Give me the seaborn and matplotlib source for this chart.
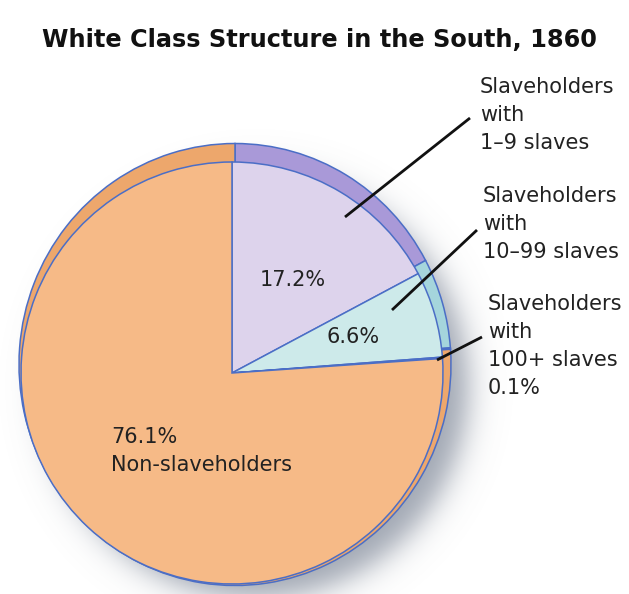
import numpy as np
import matplotlib
matplotlib.use("Agg")
import matplotlib.pyplot as plt
import matplotlib.transforms as mtransforms
import seaborn as sns

# Share of white Southern families by slaveholding, 1860 (percent)
groups = ["Slaveholders with 1–9 slaves", "Slaveholders with 10–99 slaves",
          "Slaveholders with 100+ slaves", "Non-slaveholders"]
shares = [17.2, 6.6, 0.1, 76.1]
face_colors = ["#ddd3ec", "#cdeaea", "#f4e53e", "#f6ba87"]
rim_colors = ["#a999d8", "#a5d5dc", "#e9d932", "#eda76c"]

title = "White Class Structure in the South, 1860"
callouts = ["Slaveholders\nwith\n1–9 slaves",
            "Slaveholders\nwith\n10–99 slaves",
            "Slaveholders\nwith\n100+ slaves\n0.1%"]
inner_labels = ["17.2%", "6.6%", "76.1%\nNon-slaveholders"]

sns.set_theme(style="white")
plt.rcParams["font.family"] = ["DejaVu Sans"]

W, H = 629, 594
fig = plt.figure(figsize=(W / 100, H / 100), dpi=100)
ax = fig.add_axes([0, 0, 1, 1])
ax.axis("off")

edge = "#4b6ec6"

# soft drop shadow falling to the lower right of the disc
yy, xx = np.mgrid[0:H, 0:W] + 0.5
dist = np.hypot(xx - 256, yy - 386)
alpha = 0.60 / (1 + np.exp((dist - 212) / 9.0))
shadow = np.zeros((H, W, 4))
shadow[..., 0] = 0.38
shadow[..., 1] = 0.42
shadow[..., 2] = 0.50
shadow[..., 3] = alpha
ax.imshow(shadow, extent=(0, W, H, 0), origin="upper", zorder=0,
          interpolation="bilinear")

# back of the disc (visible as a rim), drawn as a unit pie stretched to an ellipse
rim, _ = ax.pie(shares, colors=rim_colors, startangle=-90, counterclock=True,
                radius=1, center=(0, 0),
                wedgeprops=dict(edgecolor=edge, linewidth=1.1))
rim_tf = mtransforms.Affine2D().scale(216, 221).translate(235, 364.5) + ax.transData
for w in rim:
    w.set_transform(rim_tf)
    w.set_zorder(1)

# front face of the pie
face, _ = ax.pie(shares, colors=face_colors, startangle=-90, counterclock=True,
                 radius=211, center=(232, 373),
                 wedgeprops=dict(edgecolor=edge, linewidth=1.1))
for w in face:
    w.set_zorder(2)

ax.set_xlim(0, W)
ax.set_ylim(H, 0)
ax.set_aspect("auto")

ax.text(319, 40, title, ha="center", va="center", fontsize=17.3,
        fontweight="bold", color="#111111", zorder=5)

fs = 15
ls = 1.5
ax.text(293, 280, inner_labels[0], ha="center", va="center", fontsize=fs,
        color="#222222", zorder=5)
ax.text(353, 337, inner_labels[1], ha="center", va="center", fontsize=fs,
        color="#222222", zorder=5)
ax.text(111, 427, inner_labels[2], ha="left", va="top", fontsize=fs,
        color="#222222", linespacing=ls, zorder=5)

callout_pos = [(480, 77), (483, 186), (488, 294)]
for (x, y), txt in zip(callout_pos, callouts):
    ax.text(x, y, txt, ha="left", va="top", fontsize=fs, color="#222222",
            linespacing=ls, zorder=5)

leaders = [((345, 217), (470, 118)),
           ((392, 310), (477, 230)),
           ((437, 360), (482, 337))]
for (x0, y0), (x1, y1) in leaders:
    ax.plot([x0, x1], [y0, y1], color="#111111", lw=2, zorder=6,
            solid_capstyle="butt")

fig.savefig("out.png", dpi=100)
